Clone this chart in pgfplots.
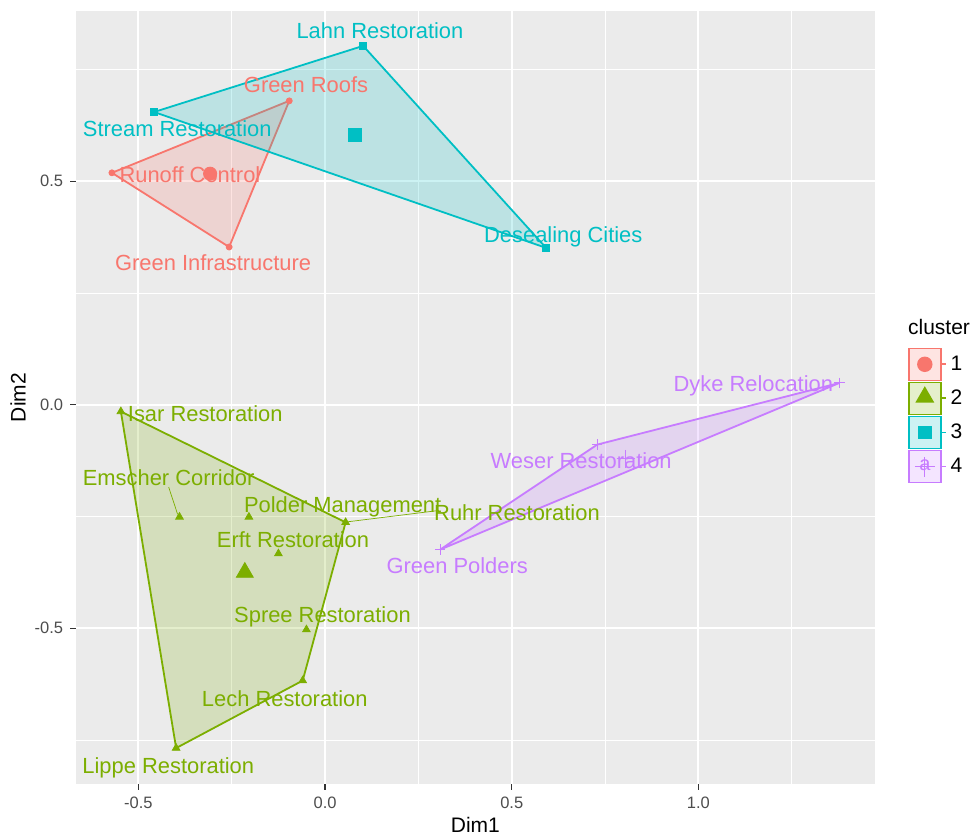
\documentclass[border=0pt]{standalone}
\usepackage{fontspec}
\setmainfont{Liberation Sans}
\usepackage{pgfplots}
\pgfplotsset{compat=1.18}
\definecolor{c1}{HTML}{F8766D}
\definecolor{c2}{HTML}{7CAE00}
\definecolor{c3}{HTML}{00BFC4}
\definecolor{c4}{HTML}{C77CFF}
\definecolor{panel}{HTML}{EBEBEB}
\definecolor{tickc}{HTML}{333333}
\definecolor{ticklab}{HTML}{4D4D4D}
\newcommand{\lblfont}{\fontsize{10.95pt}{13pt}\selectfont}
\newcommand{\titlefont}{\fontsize{10.5pt}{12pt}\selectfont}
\begin{document}
\begin{tikzpicture}
\useasboundingbox (0,0) rectangle (486.5pt,417pt);
\begin{axis}[
  at={(37.85pt,24.85pt)}, anchor=south west,
  scale only axis, width=399.65pt, height=386.65pt,
  xmin=-0.668, xmax=1.473, ymin=-0.849, ymax=0.881,
  xtick={-0.5,0,0.5,1}, ytick={-0.5,0,0.5},
  minor xtick={-0.25,0.25,0.75,1.25}, minor ytick={-0.75,-0.25,0.25,0.75},
  grid=both,
  major grid style={white, line width=1pt},
  minor grid style={white, line width=0.5pt},
  axis background/.style={fill=panel},
  axis line style={draw=none},
  tick align=outside, major tick length=2.75pt, minor tick length=0pt,
  tick pos=left,
  tick style={color=tickc, line width=0.6pt},
  ticklabel style={font=\fontsize{8.25pt}{9pt}\selectfont, color=ticklab},
  /pgf/number format/assume math mode=true,
  /pgf/number format/fixed, /pgf/number format/fixed zerofill, /pgf/number format/precision=1,
  xlabel={Dim1}, ylabel={Dim2},
  every axis x label/.style={at={(axis description cs:0.5,0)}, anchor=center, yshift=-20.3pt, font=\titlefont},
  every axis y label/.style={at={(axis description cs:-0.0722,0.5)}, anchor=center, rotate=90, font=\titlefont},
  clip=false,
  legend style={at={(axis description cs:1,0.5)}, anchor=west, xshift=16.35pt, yshift=-8.9pt,
    draw=none, fill=none, inner sep=0pt, row sep=0.35pt, font=\titlefont},
  legend cell align=left,
]
% hulls
\addplot[draw=c1, fill=c1, fill opacity=0.2, line width=0.9pt,
  legend image code/.code={\draw[c1, fill=c1, fill opacity=0.2, line width=0.7pt] (0pt,-8pt) rectangle (16pt,8pt); \fill[c1, fill opacity=1] (8pt,0pt) circle (3.4pt); \path (16pt,0pt) -- (18.5pt,0pt);}]
  coordinates {(-0.571,0.519) (-0.096,0.680) (-0.257,0.353)} -- cycle;
\addlegendentry{1}
\addplot[draw=c2, fill=c2, fill opacity=0.2, line width=0.9pt,
  legend image code/.code={\draw[c2, fill=c2, fill opacity=0.2, line width=0.7pt] (0pt,-8pt) rectangle (16pt,8pt); \fill[c2, fill opacity=1] (8pt,0.6pt) +(90:4.6pt) -- +(210:4.6pt) -- +(330:4.6pt) -- cycle; \path (16pt,0pt) -- (18.5pt,0pt);}]
  coordinates {(-0.547,-0.015) (0.055,-0.263) (-0.060,-0.617) (-0.399,-0.768)} -- cycle;
\addlegendentry{2}
\addplot[draw=c3, fill=c3, fill opacity=0.2, line width=0.9pt,
  legend image code/.code={\draw[c3, fill=c3, fill opacity=0.2, line width=0.7pt] (0pt,-8pt) rectangle (16pt,8pt); \fill[c3, fill opacity=1] (5pt,-3pt) rectangle (11pt,3pt); \path (16pt,0pt) -- (18.5pt,0pt);}]
  coordinates {(-0.458,0.655) (0.102,0.803) (0.592,0.351)} -- cycle;
\addlegendentry{3}
\addplot[draw=c4, fill=c4, fill opacity=0.2, line width=0.9pt,
  legend image code/.code={\draw[c4, fill=c4, fill opacity=0.2, line width=0.7pt] (0pt,-8pt) rectangle (16pt,8pt); \node[text=c4, text opacity=1, font=\fontsize{10pt}{11pt}\selectfont, inner sep=0pt, anchor=center] at (8pt,0pt) {a}; \draw[c4, draw opacity=1, line width=0.6pt] (3pt,0pt) -- (13pt,0pt) (8pt,-5pt) -- (8pt,5pt); \path (16pt,0pt) -- (18.5pt,0pt);}]
  coordinates {(0.308,-0.324) (0.729,-0.089) (1.378,0.049)} -- cycle;
\addlegendentry{4}
% repel segments
\addplot[c2, line width=0.35pt, forget plot] coordinates {(-0.419,-0.184) (-0.395,-0.245)};
\addplot[c2, line width=0.35pt, forget plot] coordinates {(0.058,-0.262) (0.299,-0.237)};
% points
\addplot[only marks, mark=*, color=c1, mark size=1.5pt, forget plot]
  coordinates {(-0.571,0.519) (-0.096,0.680) (-0.257,0.353)};
\addplot[only marks, mark=triangle*, color=c2, mark size=2.2pt, forget plot]
  coordinates {(-0.547,-0.015) (-0.390,-0.251) (-0.204,-0.251) (0.055,-0.263) (-0.125,-0.333) (-0.050,-0.503) (-0.060,-0.617) (-0.399,-0.768)};
\addplot[only marks, mark=square*, color=c3, mark size=1.75pt, forget plot]
  coordinates {(0.102,0.803) (-0.458,0.655) (0.592,0.351)};
\addplot[only marks, mark=+, color=c4, mark size=2.6pt, mark options={line width=0.5pt}, forget plot]
  coordinates {(1.378,0.049) (0.729,-0.089) (0.308,-0.324)};
% labels
\begin{scope}[every node/.style={font=\lblfont, anchor=base, yshift=-3.9pt, inner sep=0pt}]
\node[text=c3] at (axis cs:0.147,0.837) {Lahn Restoration};
\node[text=c1] at (axis cs:-0.051,0.716) {Green Roofs};
\node[text=c3] at (axis cs:-0.396,0.617) {Stream Restoration};
\node[text=c1] at (axis cs:-0.362,0.515) {Runoff Control};
\node[text=c3] at (axis cs:0.638,0.380) {Desealing Cities};
\node[text=c1] at (axis cs:-0.300,0.317) {Green Infrastructure};
\node[text=c4] at (axis cs:1.147,0.047) {Dyke Relocation};
\node[text=c2] at (axis cs:-0.321,-0.020) {Isar Restoration};
\node[text=c4] at (axis cs:0.686,-0.125) {Weser Restoration};
\node[text=c2] at (axis cs:-0.419,-0.163) {Emscher Corridor};
\node[text=c2] at (axis cs:0.047,-0.224) {Polder Management};
\node[text=c2] at (axis cs:0.514,-0.242) {Ruhr Restoration};
\node[text=c2] at (axis cs:-0.086,-0.301) {Erft Restoration};
\node[text=c4] at (axis cs:0.354,-0.360) {Green Polders};
\node[text=c2] at (axis cs:-0.007,-0.470) {Spree Restoration};
\node[text=c2] at (axis cs:-0.108,-0.658) {Lech Restoration};
\node[text=c2] at (axis cs:-0.420,-0.808) {Lippe Restoration};
\end{scope}
% centers
\addplot[only marks, mark=*, color=c1, mark size=3.3pt, forget plot] coordinates {(-0.308,0.517)};
\addplot[only marks, mark=triangle*, color=c2, mark size=4.9pt, forget plot] coordinates {(-0.215,-0.375)};
\addplot[only marks, mark=square*, color=c3, mark size=3.3pt, forget plot] coordinates {(0.079,0.603)};
\addplot[only marks, mark=+, color=c4, mark size=4.5pt, mark options={line width=0.5pt}, forget plot] coordinates {(0.805,-0.121)};
\node[anchor=base west, font=\titlefont, inner sep=0pt, xshift=16.35pt, yshift=31.35pt] at (axis description cs:1,0.5) {cluster};
\end{axis}
\end{tikzpicture}
\end{document}
